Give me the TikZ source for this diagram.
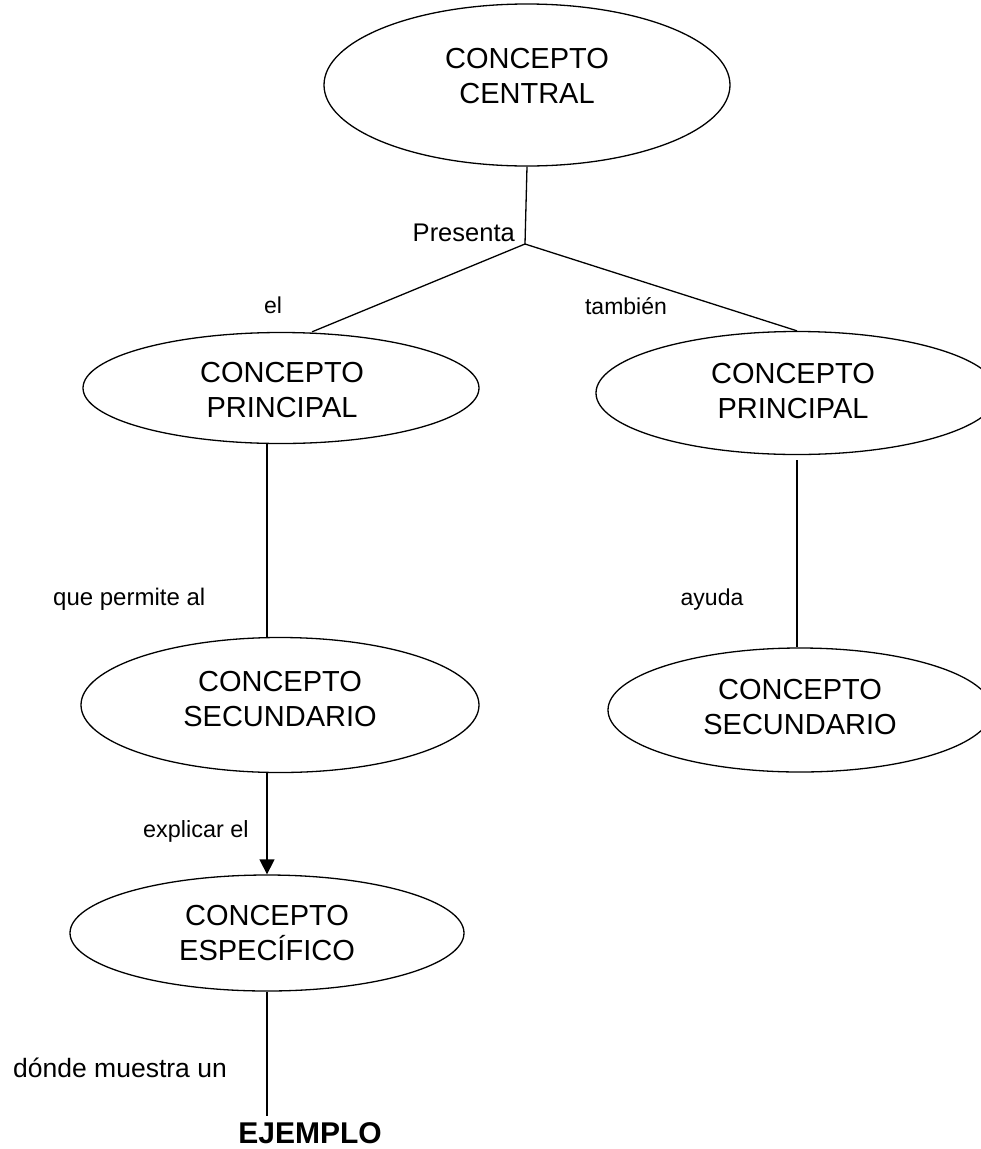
\documentclass[tikz,border=0pt]{standalone}
\usepackage{fontspec}
\setmainfont{Liberation Sans}
\usetikzlibrary{arrows.meta,calc,shapes.geometric}

\tikzset{
  concept/.style={draw=black, line width=1.3pt, ellipse, inner sep=0pt},
  concepttext/.style={align=center, inner sep=0pt, font=\fontsize{29}{35}\selectfont},
  linklabel/.style={inner sep=0pt},
  link/.style={draw=black, line width=1.3pt},
}

\begin{document}
\begin{tikzpicture}[x=1pt,y=-1pt]
  \useasboundingbox (0,0) rectangle (981,1149);
  \fill[white] (0,0) rectangle (981,1149);

  % concept ellipses
  \node[concept, minimum width=406pt, minimum height=162pt] (central) at (527,85) {};
  \node[concept, minimum width=396pt, minimum height=111pt] (princA) at (281,388) {};
  \node[concept, minimum width=402pt, minimum height=123pt] (princB) at (797,393) {};
  \node[concept, minimum width=398pt, minimum height=135pt] (secA) at (280,705) {};
  \node[concept, minimum width=384pt, minimum height=124pt] (secB) at (800,710) {};
  \node[concept, minimum width=394pt, minimum height=116pt] (espec) at (267,933) {};

  % concept texts
  \node[concepttext] (centralT) at (527,76) {CONCEPTO\\CENTRAL};
  \node[concepttext] (princAT) at (282,390.5) {CONCEPTO\\PRINCIPAL};
  \node[concepttext] (princBT) at (793,391.5) {CONCEPTO\\PRINCIPAL};
  \node[concepttext] (secAT) at (280,699.5) {CONCEPTO\\SECUNDARIO};
  \node[concepttext] (secBT) at (800,707.5) {CONCEPTO\\SECUNDARIO};
  \node[concepttext] (especT) at (267,933.5) {CONCEPTO\\ESPECÍFICO};

  % final example
  \node[linklabel, anchor=base, font=\fontsize{30}{36}\selectfont\bfseries] (ejemplo) at (310,1143) {EJEMPLO};

  % link labels
  \node[linklabel, anchor=base east, font=\fontsize{25.5}{30}\selectfont] (lPresenta) at (515,241) {Presenta};
  \node[linklabel, anchor=base, font=\fontsize{23}{28}\selectfont] (lEl) at (273,313) {el};
  \node[linklabel, anchor=base, font=\fontsize{23}{28}\selectfont] (lTambien) at (626,314) {también};
  \node[linklabel, anchor=base west, font=\fontsize{24}{28}\selectfont] (lPermite) at (53,605) {que permite al};
  \node[linklabel, anchor=base, font=\fontsize{23}{28}\selectfont] (lAyuda) at (712,605) {ayuda};
  \node[linklabel, anchor=base west, font=\fontsize{23.4}{28}\selectfont] (lExplicar) at (143,837) {explicar el};
  \node[linklabel, anchor=base west, font=\fontsize{26.5}{31}\selectfont] (lDonde) at (13,1077) {dónde muestra un};

  % connectors
  \coordinate (split) at (525,244);
  \draw[link] (central.south) -- (split);
  \draw[link] (split) -- ($(princA.north)+(31,0)$);
  \draw[link] (split) -- (princB.north);
  \draw[link] (princA.south -| espec) -- (secA.north -| espec);
  \draw[link, -{Triangle[width=15pt,length=15pt]}] (secA.south -| espec) -- (espec.north);
  \draw[link, shorten >=6pt] (espec.south) -- (espec.south |- ejemplo.north);
  \draw[link, shorten <=5pt] (princB.south) -- (princB.south |- secB.north);
\end{tikzpicture}
\end{document}
